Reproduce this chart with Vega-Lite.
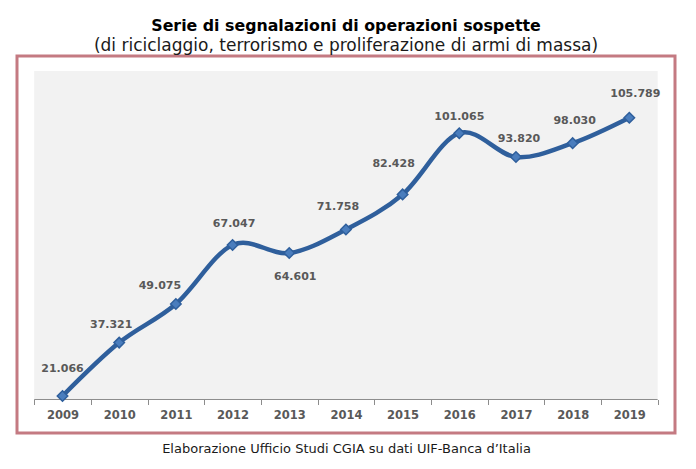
{
  "$schema": "https://vega.github.io/schema/vega-lite/v6.json",
  "width": 658,
  "height": 377,
  "autosize": {"type": "none"},
  "padding": {"left": 17, "top": 56, "right": 21, "bottom": 36},
  "background": "white",
  "title": {
    "text": "Serie di segnalazioni di operazioni sospette",
    "subtitle": "(di riciclaggio, terrorismo e proliferazione di armi di massa)",
    "anchor": "middle",
    "frame": "group",
    "font": "DejaVu Sans",
    "fontSize": 15.8,
    "fontWeight": "bold",
    "color": "#000000",
    "subtitleFont": "DejaVu Sans",
    "subtitleFontSize": 17,
    "subtitleColor": "#1a1a1a",
    "subtitlePadding": 3,
    "offset": 1
  },
  "data": {
    "values": [
      {"year": 2009, "value": 21066},
      {"year": 2010, "value": 37321},
      {"year": 2011, "value": 49075},
      {"year": 2012, "value": 67047},
      {"year": 2013, "value": 64601},
      {"year": 2014, "value": 71758},
      {"year": 2015, "value": 82428},
      {"year": 2016, "value": 101065},
      {"year": 2017, "value": 93820},
      {"year": 2018, "value": 98030},
      {"year": 2019, "value": 105789}
    ]
  },
  "layer": [
    {
      "data": {"values": [{}]},
      "mark": {"type": "rect", "fill": "#f2f2f2"},
      "encoding": {
        "x": {
          "datum": 2008.5,
          "type": "quantitative",
          "scale": {"domain": [2008.197, 2019.806], "nice": false, "zero": false},
          "axis": {
            "orient": "bottom",
            "values": [2008.5, 2009.5, 2010.5, 2011.5, 2012.5, 2013.5, 2014.5, 2015.5, 2016.5, 2017.5, 2018.5, 2019.5],
            "labels": false,
            "domain": false,
            "ticks": true,
            "tickSize": 5,
            "tickColor": "#8c8c8c",
            "tickWidth": 1,
            "grid": false,
            "offset": -33.5,
            "title": null,
            "zindex": 1
          }
        },
        "x2": {"datum": 2019.5},
        "y": {
          "datum": 20000,
          "type": "quantitative",
          "scale": {"domain": [9802, 124566], "nice": false, "zero": false},
          "axis": null
        },
        "y2": {"datum": 120000}
      }
    },
    {
      "data": {"values": [{}]},
      "mark": {"type": "rule", "stroke": "#8c8c8c", "strokeWidth": 1},
      "encoding": {
        "x": {"datum": 2008.5, "type": "quantitative", "axis": null},
        "x2": {"datum": 2019.5},
        "y": {"datum": 20000, "type": "quantitative", "axis": null}
      }
    },
    {
      "mark": {"type": "line", "interpolate": "cardinal", "tension": 0, "stroke": "#2f5f9c", "strokeWidth": 4.5, "strokeCap": "round"},
      "encoding": {
        "x": {
          "field": "year",
          "type": "quantitative",
          "axis": {
            "orient": "bottom",
            "values": [2009, 2010, 2011, 2012, 2013, 2014, 2015, 2016, 2017, 2018, 2019],
            "format": "d",
            "domain": false,
            "ticks": false,
            "grid": false,
            "labelFont": "DejaVu Sans",
            "labelFontWeight": "bold",
            "labelFontSize": 11.5,
            "labelColor": "#595959",
            "labelPadding": 10,
            "labelFlush": false,
            "labelOverlap": false,
            "offset": -33.5,
            "title": null,
            "zindex": 1
          }
        },
        "y": {"field": "value", "type": "quantitative", "axis": null}
      }
    },
    {
      "mark": {"type": "point", "shape": "diamond", "filled": true, "fill": "#4a7dbd", "stroke": "#2f5f9c", "strokeWidth": 1.5, "size": 110, "opacity": 1},
      "encoding": {
        "x": {
          "field": "year",
          "type": "quantitative",
          "axis": {
            "orient": "bottom",
            "labels": false,
            "ticks": false,
            "domain": false,
            "grid": false,
            "title": "Elaborazione Ufficio Studi CGIA su dati UIF-Banca d’Italia",
            "titleFont": "DejaVu Sans",
            "titleFontWeight": "normal",
            "titleFontSize": 13,
            "titleColor": "#1a1a1a",
            "titlePadding": 9
          }
        },
        "y": {"field": "value", "type": "quantitative", "axis": null}
      }
    },
    {
      "transform": [{"filter": "datum.year == 2009"}],
      "mark": {"type": "text", "dx": 0, "dy": -27, "font": "DejaVu Sans", "fontWeight": "bold", "fontSize": 11, "fill": "#595959"},
      "encoding": {
        "x": {"field": "year", "type": "quantitative", "axis": null},
        "y": {"field": "value", "type": "quantitative", "axis": null},
        "text": {"field": "value", "type": "quantitative", "format": ","}
      }
    },
    {
      "transform": [{"filter": "datum.year == 2010"}],
      "mark": {"type": "text", "dx": -8, "dy": -18, "font": "DejaVu Sans", "fontWeight": "bold", "fontSize": 11, "fill": "#595959"},
      "encoding": {
        "x": {"field": "year", "type": "quantitative", "axis": null},
        "y": {"field": "value", "type": "quantitative", "axis": null},
        "text": {"field": "value", "type": "quantitative", "format": ","}
      }
    },
    {
      "transform": [{"filter": "datum.year == 2011"}],
      "mark": {"type": "text", "dx": -16, "dy": -18, "font": "DejaVu Sans", "fontWeight": "bold", "fontSize": 11, "fill": "#595959"},
      "encoding": {
        "x": {"field": "year", "type": "quantitative", "axis": null},
        "y": {"field": "value", "type": "quantitative", "axis": null},
        "text": {"field": "value", "type": "quantitative", "format": ","}
      }
    },
    {
      "transform": [{"filter": "datum.year == 2012"}],
      "mark": {"type": "text", "dx": 1.5, "dy": -21, "font": "DejaVu Sans", "fontWeight": "bold", "fontSize": 11, "fill": "#595959"},
      "encoding": {
        "x": {"field": "year", "type": "quantitative", "axis": null},
        "y": {"field": "value", "type": "quantitative", "axis": null},
        "text": {"field": "value", "type": "quantitative", "format": ","}
      }
    },
    {
      "transform": [{"filter": "datum.year == 2013"}],
      "mark": {"type": "text", "dx": 6, "dy": 24, "font": "DejaVu Sans", "fontWeight": "bold", "fontSize": 11, "fill": "#595959"},
      "encoding": {
        "x": {"field": "year", "type": "quantitative", "axis": null},
        "y": {"field": "value", "type": "quantitative", "axis": null},
        "text": {"field": "value", "type": "quantitative", "format": ","}
      }
    },
    {
      "transform": [{"filter": "datum.year == 2014"}],
      "mark": {"type": "text", "dx": -8, "dy": -22, "font": "DejaVu Sans", "fontWeight": "bold", "fontSize": 11, "fill": "#595959"},
      "encoding": {
        "x": {"field": "year", "type": "quantitative", "axis": null},
        "y": {"field": "value", "type": "quantitative", "axis": null},
        "text": {"field": "value", "type": "quantitative", "format": ","}
      }
    },
    {
      "transform": [{"filter": "datum.year == 2015"}],
      "mark": {"type": "text", "dx": -9, "dy": -30, "font": "DejaVu Sans", "fontWeight": "bold", "fontSize": 11, "fill": "#595959"},
      "encoding": {
        "x": {"field": "year", "type": "quantitative", "axis": null},
        "y": {"field": "value", "type": "quantitative", "axis": null},
        "text": {"field": "value", "type": "quantitative", "format": ","}
      }
    },
    {
      "transform": [{"filter": "datum.year == 2016"}],
      "mark": {"type": "text", "dx": 0, "dy": -16, "font": "DejaVu Sans", "fontWeight": "bold", "fontSize": 11, "fill": "#595959"},
      "encoding": {
        "x": {"field": "year", "type": "quantitative", "axis": null},
        "y": {"field": "value", "type": "quantitative", "axis": null},
        "text": {"field": "value", "type": "quantitative", "format": ","}
      }
    },
    {
      "transform": [{"filter": "datum.year == 2017"}],
      "mark": {"type": "text", "dx": 3, "dy": -18, "font": "DejaVu Sans", "fontWeight": "bold", "fontSize": 11, "fill": "#595959"},
      "encoding": {
        "x": {"field": "year", "type": "quantitative", "axis": null},
        "y": {"field": "value", "type": "quantitative", "axis": null},
        "text": {"field": "value", "type": "quantitative", "format": ","}
      }
    },
    {
      "transform": [{"filter": "datum.year == 2018"}],
      "mark": {"type": "text", "dx": 2, "dy": -22, "font": "DejaVu Sans", "fontWeight": "bold", "fontSize": 11, "fill": "#595959"},
      "encoding": {
        "x": {"field": "year", "type": "quantitative", "axis": null},
        "y": {"field": "value", "type": "quantitative", "axis": null},
        "text": {"field": "value", "type": "quantitative", "format": ","}
      }
    },
    {
      "transform": [{"filter": "datum.year == 2019"}],
      "mark": {"type": "text", "dx": 6, "dy": -24, "font": "DejaVu Sans", "fontWeight": "bold", "fontSize": 11, "fill": "#595959"},
      "encoding": {
        "x": {"field": "year", "type": "quantitative", "axis": null},
        "y": {"field": "value", "type": "quantitative", "axis": null},
        "text": {"field": "value", "type": "quantitative", "format": ","}
      }
    }
  ],
  "resolve": {"axis": {"x": "independent"}},
  "config": {
    "locale": {"number": {"decimal": ",", "thousands": ".", "grouping": [3], "currency": ["€", ""]}},
    "view": {"stroke": "#c47a82", "strokeWidth": 3, "fill": "white"}
  }
}
